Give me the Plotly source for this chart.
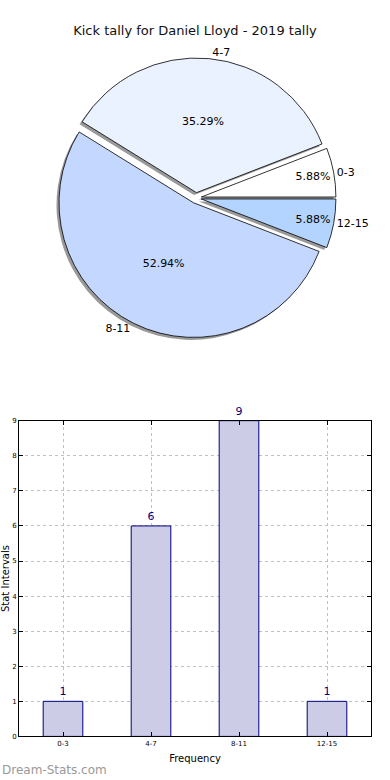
import plotly.graph_objects as go

# Data
categories = ["0-3", "4-7", "8-11", "12-15"]
counts = [1, 6, 9, 1]
pie_colors = ["#ffffff", "#eaf1ff", "#c4d8ff", "#b3d4ff"]
pulls = [0.04, 0.04, 0.04, 0.04]
y_ticks = list(range(0, 10))

title_text = "Kick tally for Daniel Lloyd - 2019 tally"
x_title = "Frequency"
y_title = "Stat Intervals"
watermark = "Dream-Stats.com"

W, H = 390, 780
font_family = "DejaVu Sans"

# first slice starts at 3 o'clock, going counter-clockwise
rot = 90 - 360 * counts[0] / sum(counts)

# pie geometry (pixels -> paper)
cx, cy, r = 196, 196, 136
half = r * (1 + max(pulls))
pie_dom_x = [(cx - half) / W, (cx + half) / W]
pie_dom_y = [1 - (cy + half) / H, 1 - (cy - half) / H]
sh_dx, sh_dy = -2.5 / W, -2.5 / H

fig = go.Figure()

common = dict(labels=categories, values=counts, sort=False,
              direction="counterclockwise", rotation=rot, pull=pulls,
              showlegend=False)

# shadow
fig.add_trace(go.Pie(
    **common,
    marker=dict(colors=["rgba(0,0,0,0.4)"] * 4, line=dict(width=0)),
    textinfo="none", hoverinfo="skip",
    domain=dict(x=[pie_dom_x[0] + sh_dx, pie_dom_x[1] + sh_dx],
                y=[pie_dom_y[0] + sh_dy, pie_dom_y[1] + sh_dy]),
))

# main pie with percentages
fig.add_trace(go.Pie(
    **common,
    marker=dict(colors=pie_colors, line=dict(color="#000000", width=0.8)),
    textinfo="percent", texttemplate="%{percent:.2%}",
    textposition="inside", insidetextorientation="horizontal",
    textfont=dict(size=11, color="#000000", family=font_family),
    domain=dict(x=pie_dom_x, y=pie_dom_y),
))

# outside labels
fig.add_trace(go.Pie(
    **common,
    marker=dict(colors=["rgba(0,0,0,0)"] * 4, line=dict(width=0)),
    textinfo="label", textposition="outside",
    outsidetextfont=dict(size=11, color="#000000", family=font_family),
    hoverinfo="skip",
    domain=dict(x=pie_dom_x, y=pie_dom_y),
))

# bar chart
fig.add_trace(go.Bar(
    x=categories, y=counts, width=0.45,
    marker=dict(color="#ccccE6", line=dict(color="#000080", width=1)),
    text=[str(v) for v in counts], textposition="outside",
    textfont=dict(size=11, color="#000080", family=font_family),
    cliponaxis=False, showlegend=False,
    xaxis="x", yaxis="y",
))

bx0, bx1 = 19, 371
by0, by1 = 421, 740

fig.update_layout(
    width=W, height=H,
    margin=dict(l=0, r=0, t=0, b=0),
    paper_bgcolor="white", plot_bgcolor="white",
    font=dict(family=font_family, color="#000000"),
    title=dict(text=title_text, x=0.5, xanchor="center", y=1 - 30 / H, yanchor="middle",
               font=dict(size=13, color="#111111", family=font_family)),
    xaxis=dict(
        domain=[bx0 / W, bx1 / W], anchor="y",
        type="category", range=[-0.5, 3.5],
        showline=True, linecolor="#000000", linewidth=1, mirror="ticks",
        ticks="inside", ticklen=4, tickcolor="#000000",
        showgrid=True, gridcolor="#c0c0c0", griddash="dot", gridwidth=1,
        tickfont=dict(size=7, family=font_family),
        title=dict(text=x_title, font=dict(size=10, family=font_family), standoff=8),
    ),
    yaxis=dict(
        domain=[1 - by1 / H, 1 - by0 / H], anchor="x",
        range=[0, 9], tickvals=y_ticks,
        showline=True, linecolor="#000000", linewidth=1, mirror="ticks",
        ticks="inside", ticklen=4, tickcolor="#000000",
        showgrid=True, gridcolor="#c0c0c0", griddash="dot", gridwidth=1,
        zeroline=False,
        tickfont=dict(size=7, family=font_family),
        title=dict(text=y_title, font=dict(size=10, family=font_family), standoff=2),
    ),
    annotations=[dict(
        text=watermark, x=0, y=0, xref="paper", yref="paper",
        xanchor="left", yanchor="bottom", yshift=-3, showarrow=False,
        font=dict(size=12, color="#999999", family=font_family),
    )],
)

fig.write_html(
    "out.html",
    config={"displayModeBar": False},
    post_script="document.body.style.margin='0';document.body.style.overflow='hidden';"
                "document.documentElement.style.overflow='hidden';",
)
